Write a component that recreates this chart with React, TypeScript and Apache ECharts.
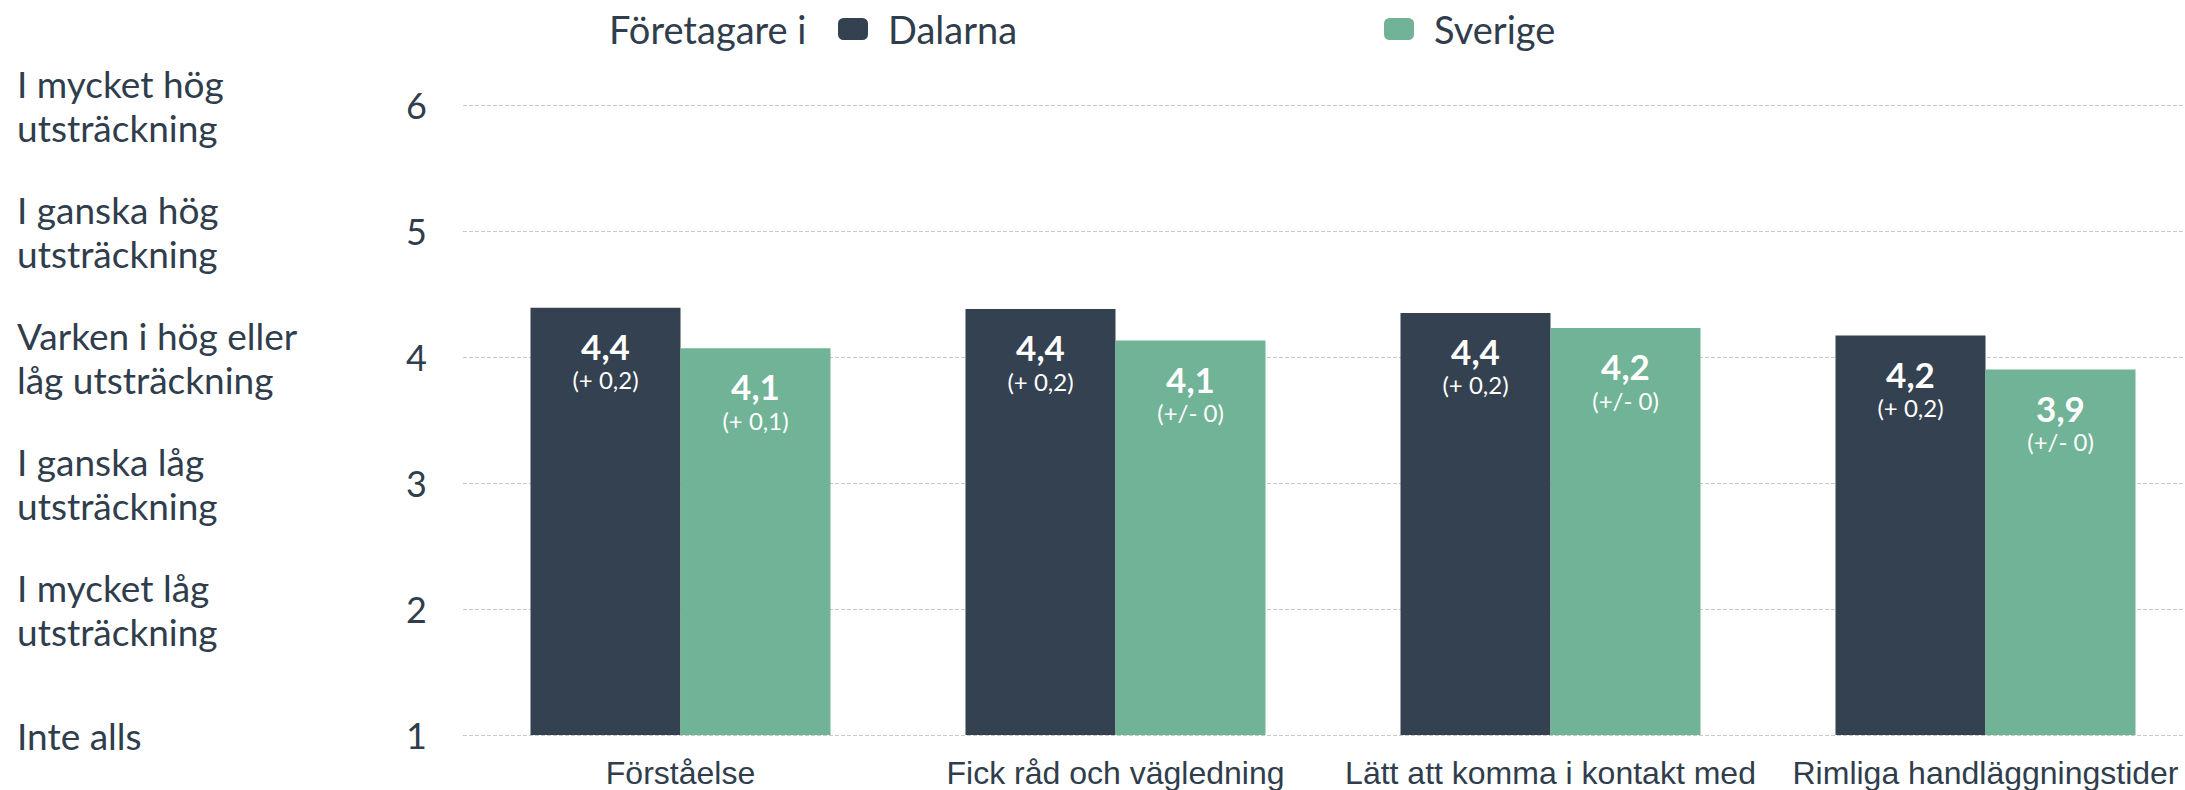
import React, { useEffect, useRef } from "react";
import * as echarts from "echarts";

const categories = [
  "Förståelse",
  "Fick råd och vägledning",
  "Lätt att komma i kontakt med",
  "Rimliga handläggningstider",
];
const seriesNames = ["Dalarna", "Sverige"];
const dalarnaValues = [4.39, 4.38, 4.35, 4.17];
const sverigeValues = [4.07, 4.13, 4.23, 3.9];
const dalarnaLabels = ["4,4", "4,4", "4,4", "4,2"];
const dalarnaChanges = ["(+ 0,2)", "(+ 0,2)", "(+ 0,2)", "(+ 0,2)"];
const sverigeLabels = ["4,1", "4,1", "4,2", "3,9"];
const sverigeChanges = ["(+ 0,1)", "(+/- 0)", "(+/- 0)", "(+/- 0)"];
const scaleTicks = [1, 2, 3, 4, 5, 6];
const scaleTexts = [
  "Inte alls",
  "I mycket låg\nutsträckning",
  "I ganska låg\nutsträckning",
  "Varken i hög eller\nlåg utsträckning",
  "I ganska hög\nutsträckning",
  "I mycket hög\nutsträckning",
];
const legendTitle = "Företagare i";

const DARK = "#344150";
const GREEN = "#70b396";
const TEXT = "#2f3d4c";

export default function App() {
  const ref = useRef<HTMLDivElement>(null);
  useEffect(() => {
    if (!ref.current) return;
    const chart = echarts.init(ref.current, null, { renderer: "svg" });
    const labelCfg = (main: string[], sub: string[]) => ({
      show: true,
      position: "insideTop",
      distance: 19,
      formatter: (p: any) => `{a|${main[p.dataIndex]}}\n{b|${sub[p.dataIndex]}}`,
      rich: {
        a: { fontSize: 35, fontWeight: "bold", color: "#fff", lineHeight: 38, fontFamily: "Lato" },
        b: { fontSize: 24, color: "#fff", lineHeight: 30, fontFamily: "Lato" },
      },
    });
    chart.setOption({
      animation: false,
      title: {
        text: legendTitle,
        left: 609,
        top: 10,
        textStyle: { fontSize: 38, fontWeight: "normal", color: TEXT, fontFamily: "Lato" },
        padding: 0,
      },
      legend: [
        {
          data: [seriesNames[0]],
          left: 838,
          top: 10,
          padding: 0,
          itemWidth: 30,
          itemHeight: 22,
          icon: "roundRect",
          textStyle: { fontSize: 38, color: TEXT, fontFamily: "Lato", padding: [0, 0, 0, 15] },
        },
        {
          data: [seriesNames[1]],
          left: 1384,
          top: 10,
          padding: 0,
          itemWidth: 30,
          itemHeight: 22,
          icon: "roundRect",
          textStyle: { fontSize: 38, color: TEXT, fontFamily: "Lato", padding: [0, 0, 0, 15] },
        },
      ],
      grid: { left: 463, right: 0, top: 105, bottom: 55 },
      xAxis: {
        type: "category",
        data: categories,
        axisLine: { show: false },
        axisTick: { show: false },
        axisLabel: {
          interval: 0,
          fontSize: 32,
          lineHeight: 26,
          color: TEXT,
          fontFamily: "Liberation Sans",
          margin: 25,
        },
      },
      yAxis: [
        {
          type: "value",
          min: 1,
          max: 6,
          interval: 1,
          axisLine: { show: false },
          axisTick: { show: false },
          splitLine: { show: true, lineStyle: { type: "dashed", color: "#c8c8c8", width: 1 } },
          axisLabel: { fontSize: 36, color: TEXT, fontFamily: "Lato", margin: 36 },
        },
        {
          type: "value",
          position: "left",
          min: 1,
          max: 6,
          interval: 1,
          axisLine: { show: false },
          axisTick: { show: false },
          splitLine: { show: false },
          axisLabel: {
            align: "left",
            margin: 446,
            fontSize: 37,
            lineHeight: 44,
            color: TEXT,
            fontFamily: "Lato",
            formatter: (v: number) => {
              const i = scaleTicks.indexOf(v);
              return i >= 0 ? scaleTexts[i] : "";
            },
          },
        },
      ],
      series: [
        {
          name: seriesNames[0],
          type: "bar",
          data: dalarnaValues,
          barWidth: 150,
          barGap: "0%",
          itemStyle: { color: DARK },
          label: labelCfg(dalarnaLabels, dalarnaChanges),
        },
        {
          name: seriesNames[1],
          type: "bar",
          data: sverigeValues,
          barWidth: 150,
          barGap: "0%",
          itemStyle: { color: GREEN },
          label: labelCfg(sverigeLabels, sverigeChanges),
        },
      ],
    });
    return () => chart.dispose();
  }, []);
  return (
    <div
      style={{
        position: "absolute",
        left: 0,
        top: 0,
        width: 2185,
        height: 790,
        overflow: "hidden",
      }}
    >
      <div ref={ref} style={{ width: 2203, height: 790 }} />
    </div>
  );
}
